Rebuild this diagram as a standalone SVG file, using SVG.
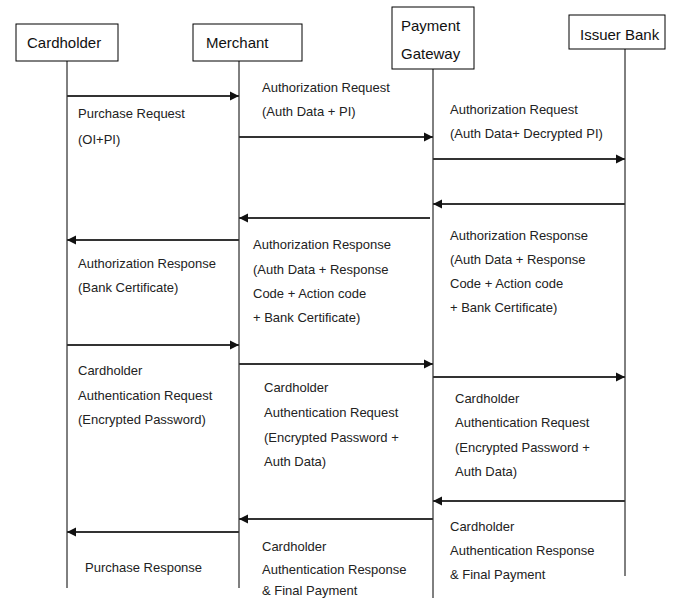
<svg xmlns="http://www.w3.org/2000/svg" width="683" height="598" viewBox="0 0 683 598">
<style>
.box{fill:#fff;stroke:#000;stroke-width:1}
.life{stroke:#000;stroke-width:1}
.hd{font-family:"Liberation Sans",Arial,sans-serif;font-size:15px;fill:#111}
.lb{font-family:"Liberation Sans",Arial,sans-serif;font-size:13px;fill:#222}
.msg{stroke:#333;stroke-width:2;fill:none;marker-end:url(#ah)}
</style>
<defs>
<marker id="ah" markerUnits="userSpaceOnUse" markerWidth="10" markerHeight="10" refX="9" refY="5" orient="auto">
<path d="M0,0.5 L9,5 L0,9.5 Z" fill="#111"/>
</marker>
</defs>
<rect width="683" height="598" fill="#fff"/>
<g id="cardholder">
<line class="life" x1="67" y1="61" x2="67" y2="588"/>
<rect class="box" x="16" y="24" width="102" height="37"/>
<text class="hd" x="27" y="48">Cardholder</text>
</g>
<g id="merchant">
<line class="life" x1="239" y1="61" x2="239" y2="588"/>
<rect class="box" x="193" y="24" width="109" height="37"/>
<text class="hd" x="206" y="48">Merchant</text>
</g>
<g id="gateway">
<line class="life" x1="433" y1="69" x2="433" y2="598"/>
<rect class="box" x="392" y="7" width="82" height="62"/>
<text class="hd" x="401" y="31">Payment</text>
<text class="hd" x="401" y="59">Gateway</text>
</g>
<g id="issuer">
<line class="life" x1="625" y1="49" x2="625" y2="576"/>
<rect class="box" x="569" y="15" width="96" height="34"/>
<text class="hd" x="580" y="40">Issuer Bank</text>
</g>
<g id="connectors">
<line class="msg" x1="67" y1="96" x2="239" y2="96"/>
<line class="msg" x1="239" y1="137" x2="433" y2="137"/>
<line class="msg" x1="433" y1="159" x2="625" y2="159"/>
<line class="msg" x1="625" y1="204" x2="433" y2="204"/>
<line class="msg" x1="430" y1="218" x2="239" y2="218"/>
<line class="msg" x1="239" y1="240" x2="67" y2="240"/>
<line class="msg" x1="67" y1="345" x2="239" y2="345"/>
<line class="msg" x1="239" y1="364" x2="433" y2="364"/>
<line class="msg" x1="433" y1="377" x2="625" y2="377"/>
<line class="msg" x1="625" y1="501" x2="433" y2="501"/>
<line class="msg" x1="433" y1="519" x2="239" y2="519"/>
<line class="msg" x1="239" y1="532" x2="67" y2="532"/>
</g>
<g id="labels">
<text class="lb" x="78" y="118">Purchase Request</text>
<text class="lb" x="78" y="144">(OI+PI)</text>
<text class="lb" x="262" y="92">Authorization Request</text>
<text class="lb" x="262" y="116">(Auth Data + PI)</text>
<text class="lb" x="450" y="114">Authorization Request</text>
<text class="lb" x="450" y="138">(Auth Data+ Decrypted PI)</text>
<text class="lb" x="450" y="240">Authorization Response</text>
<text class="lb" x="450" y="264">(Auth Data + Response</text>
<text class="lb" x="450" y="288">Code + Action code</text>
<text class="lb" x="450" y="312">+ Bank Certificate)</text>
<text class="lb" x="253" y="249">Authorization Response</text>
<text class="lb" x="253" y="274">(Auth Data + Response</text>
<text class="lb" x="253" y="298">Code + Action code</text>
<text class="lb" x="253" y="322">+ Bank Certificate)</text>
<text class="lb" x="78" y="268">Authorization Response</text>
<text class="lb" x="78" y="292">(Bank Certificate)</text>
<text class="lb" x="78" y="375">Cardholder</text>
<text class="lb" x="78" y="400">Authentication Request</text>
<text class="lb" x="78" y="424">(Encrypted Password)</text>
<text class="lb" x="264" y="392">Cardholder</text>
<text class="lb" x="264" y="417">Authentication Request</text>
<text class="lb" x="264" y="442">(Encrypted Password +</text>
<text class="lb" x="264" y="466">Auth Data)</text>
<text class="lb" x="455" y="403">Cardholder</text>
<text class="lb" x="455" y="427">Authentication Request</text>
<text class="lb" x="455" y="452">(Encrypted Password +</text>
<text class="lb" x="455" y="476">Auth Data)</text>
<text class="lb" x="450" y="531">Cardholder</text>
<text class="lb" x="450" y="555">Authentication Response</text>
<text class="lb" x="450" y="579">&amp; Final Payment</text>
<text class="lb" x="262" y="551">Cardholder</text>
<text class="lb" x="262" y="574">Authentication Response</text>
<text class="lb" x="262" y="595">&amp; Final Payment</text>
<text class="lb" x="85" y="572">Purchase Response</text>
</g>
</svg>
